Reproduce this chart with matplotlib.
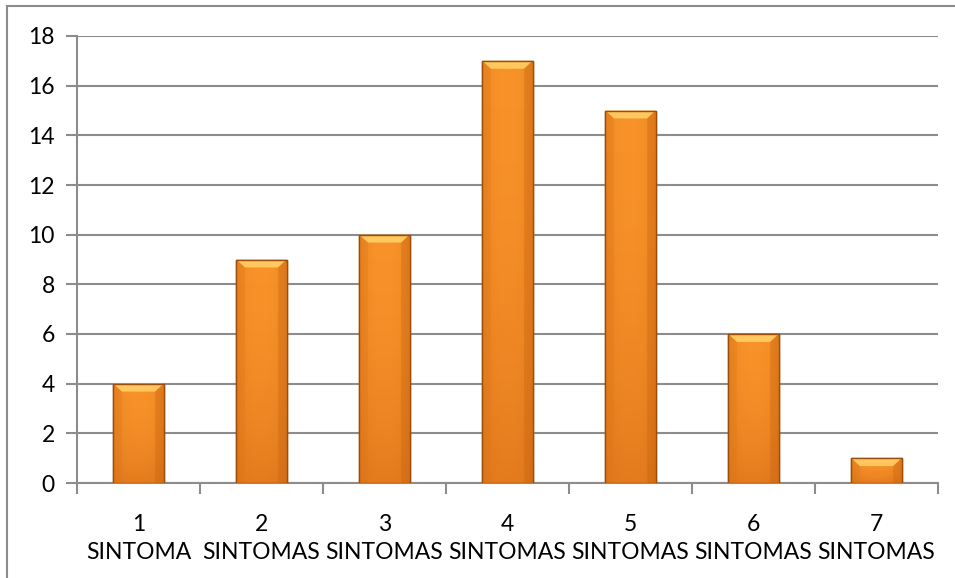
import numpy as np
import matplotlib.pyplot as plt
from matplotlib.patches import Polygon, Rectangle

# Data ------------------------------------------------
categories = ['1\nSINTOMA', '2\nSINTOMAS', '3\nSINTOMAS', '4\nSINTOMAS',
              '5\nSINTOMAS', '6\nSINTOMAS', '7\nSINTOMAS']
values = [4, 9, 10, 17, 15, 6, 1]
yticks = list(range(0, 20, 2))

# Style -----------------------------------------------
plt.rcParams['font.family'] = ['Lato', 'DejaVu Sans']
grid_col = '#8c8c8c'

fig = plt.figure(figsize=(9.55, 5.78), dpi=100)
ax = fig.add_axes([77/955, 1-483/578, (938-77)/955, (483-36)/578])

# outer chart border (top + left visible)
fig.add_artist(Rectangle((7/955, -0.1), 1.2, 1 - 6/578 + 0.1, transform=fig.transFigure,
                         fill=False, edgecolor='#8c8c8c', lw=1.5))

# Bars ------------------------------------------------
x = np.arange(len(values))
width = 0.41
bars = ax.bar(x, values, width=width, color='#F7922A', edgecolor='#A8560E',
              lw=1.0, zorder=3)

# horizontal shading + bevelled top
grad = np.linspace(0, 1, 64)
shade = 1 - 0.35 * (np.abs(grad - 0.5) * 2) ** 3
cmap_img = np.zeros((1, 64, 3))
base = np.array([0.97, 0.57, 0.16])
for i, s in enumerate(shade):
    cmap_img[0, i] = base * s + (1 - s) * np.array([0.80, 0.42, 0.08])

vg = np.linspace(0, 1, 64)
over = np.zeros((64, 1, 4))
over[:, 0, 0] = 0.75
over[:, 0, 1] = 0.33
over[:, 0, 2] = 0.05
over[:, 0, 3] = 0.35 * (1 - vg) ** 2

for b, v in zip(bars, values):
    x0, x1 = b.get_x(), b.get_x() + b.get_width()
    im = ax.imshow(cmap_img, extent=[x0, x1, 0, v], aspect='auto', zorder=3.1,
                   interpolation='bilinear', origin='lower')
    im.set_clip_path(b)
    # vertical gradient darkening toward the bottom
    ax.imshow(over, extent=[x0, x1, 0, v], aspect='auto', zorder=3.2,
              interpolation='bilinear', origin='lower')
    bev = 0.32
    inset = 0.07
    top = Polygon([(x0, v), (x1, v), (x1 - inset, v - bev), (x0 + inset, v - bev)],
                  closed=True, facecolor='#FFC75E', edgecolor='none', zorder=3.3)
    ax.add_patch(top)
    ax.add_patch(Polygon([(x0, v), (x0 + inset, v - bev), (x0 + inset, 0), (x0, 0)],
                         closed=True, facecolor='#E07818', alpha=0.35,
                         edgecolor='none', zorder=3.3))
    ax.add_patch(Polygon([(x1, v), (x1 - inset, v - bev), (x1 - inset, 0), (x1, 0)],
                         closed=True, facecolor='#C96410', alpha=0.35,
                         edgecolor='none', zorder=3.3))
    ax.add_patch(Rectangle((x0, 0), x1 - x0, v, fill=False,
                           edgecolor='#9A4E0C', lw=1.0, zorder=3.4))

# Axes -------------------------------------------------
ax.set_xlim(-0.5, len(values) - 0.5)
ax.set_ylim(0, 18)
ax.set_yticks(yticks)
ax.set_xticks(x)
ax.set_xticklabels(categories, fontsize=16.5, linespacing=1.45)
ax.tick_params(axis='x', length=0, pad=22)
ax.tick_params(axis='y', length=8, width=1.5, color=grid_col, labelsize=16.5, pad=8)
ax.set_xticks(np.arange(-0.5, len(values)), minor=True)
ax.tick_params(axis='x', which='minor', length=8, width=1.5, color=grid_col)

ax.grid(axis='y', color=grid_col, lw=1.5, zorder=0)
ax.set_axisbelow(True)
for side in ['top', 'right']:
    ax.spines[side].set_visible(False)
for side in ['left', 'bottom']:
    ax.spines[side].set_color(grid_col)
    ax.spines[side].set_linewidth(1.5)

fig.savefig('out.png', dpi=100)
